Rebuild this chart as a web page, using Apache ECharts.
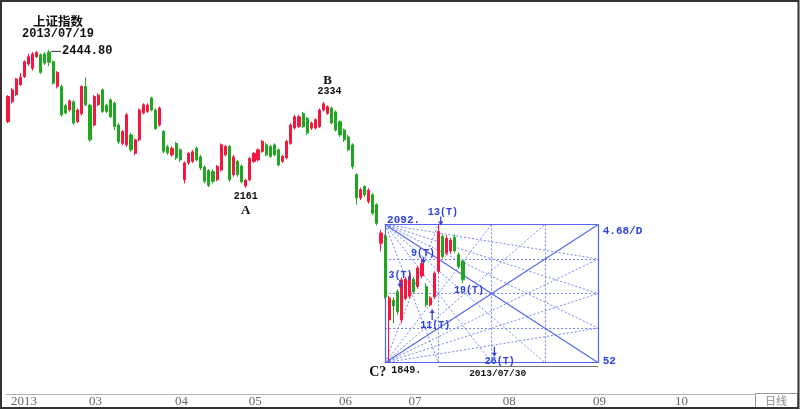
<!DOCTYPE html>
<html><head><meta charset="utf-8">
<script src="https://cdn.jsdelivr.net/npm/echarts/dist/echarts.min.js"></script>
<style>html,body{margin:0;padding:0;background:#fff}#c{width:800px;height:410px}</style>
</head><body><div id="c"></div>
<script>
// ---- data (trading-day index 0 = 2013-01-28) ----
const dayCount = 183;
const monthTickIdx = [0, 19, 40, 58, 80, 97, 120, 142, 162];
const monthTickLabels = ['2013', '03', '04', '05', '06', '07', '08', '09', '10'];
const weekTickIdx = [5, 10, 15, 25, 30, 35, 43, 48, 53, 60, 65, 70, 75, 85, 87, 92, 102, 107, 112, 117, 122, 127, 132, 137, 147, 152, 157, 167, 172, 177];

const opens = [2293,2334,2349,2370,2387,2414,2405,2430,2434,2436,2440,2419,2366,2366,2326,2317,2334,2293,2309,2366,
 2327,2286,2328,2359,2327,2338,2331,2286,2249,2246,2266,2229,2256,2311,2314,2342,2317,2286,2273,2242,
 2226,2249,2236,2177,2210,2213,2239,2222,2202,2195,2193,2177,2196,2226,2243,2187,2213,2204,2165,2177,
 2213,2216,2233,2246,2243,2246,2236,2213,2220,2249,2280,2283,2310,2300,2280,2280,2283,2317,2310,2321,
 2313,2293,2276,2262,2246,2187,2142,2164,2135,2148,2129,2057,2070,1921,1955,1970,1921,1958,1962,1992,
 1979,1998,1979,1947,1961,2006,2070,2039,2043,2068,2036,2024];
const closes = [2345,2359,2382,2386,2419,2430,2436,2439,2396,2416,2418,2373,2396,2307,2311,2336,2290,2317,2366,2328,
 2256,2345,2348,2314,2314,2303,2283,2252,2273,2307,2236,2256,2317,2328,2327,2317,2279,2321,2233,2230,
 2239,2220,2216,2210,2229,2232,2216,2200,2174,2166,2174,2203,2246,2243,2177,2222,2187,2173,2176,2219,
 2229,2236,2253,2226,2223,2226,2206,2223,2253,2286,2303,2303,2283,2270,2290,2297,2317,2330,2324,2290,
 2276,2266,2256,2236,2203,2142,2158,2148,2157,2113,2094,2076,1961,1959,1945,1935,1991,1992,1997,1970,
 2012,2020,1947,1959,2003,2079,2033,2066,2063,2043,2015,1991];
const lows = [2290,2331,2346,2367,2384,2410,2400,2427,2393,2412,2410,2370,2362,2303,2308,2314,2287,2290,2306,2325,
 2252,2283,2325,2311,2311,2300,2276,2248,2245,2242,2232,2225,2253,2308,2311,2314,2276,2283,2229,2226,
 2222,2216,2212,2170,2206,2210,2213,2196,2170,2163,2170,2174,2193,2223,2173,2183,2183,2170,2161,2174,
 2210,2213,2230,2223,2220,2223,2203,2210,2217,2246,2277,2280,2280,2266,2276,2277,2280,2314,2307,2287,
 2273,2262,2252,2233,2198,2129,2138,2144,2131,2110,2090,2042,1958,1849.65,1915,1930,1915,1955,1958,1966,
 1975,1994,1943,1944,1957,2002,2029,2035,2038,2040,2011,1985];
const highs = [2348,2363,2384,2395,2422,2436,2440,2442,2437,2440,2444.8,2422,2399,2370,2330,2339,2337,2320,2369,2385,
 2330,2348,2352,2362,2330,2341,2335,2290,2276,2311,2270,2259,2320,2331,2331,2345,2320,2324,2276,2246,
 2243,2252,2239,2213,2232,2236,2243,2226,2205,2198,2197,2206,2249,2246,2246,2226,2216,2207,2179,2222,
 2232,2239,2256,2250,2246,2249,2239,2226,2256,2290,2307,2307,2313,2303,2293,2300,2320,2334,2327,2324,
 2316,2296,2279,2266,2249,2190,2162,2167,2161,2151,2132,2082,2073,1963,1960,1974,1995,1996,2005,1996,
 2016,2030,1985,1962,2006,2092,2074,2072,2067,2073,2040,2027];

// Gann box (start day, length in days, high, low) and the time line under it
const boxStartIdx = 92, boxDays = 52, boxHigh = 2092, boxLow = 1849;
const timeLineStart = 105, timeLinePrice = 1843.5;

// annotations: text, day index, price
const annText  = ['2444.80','2161','A','2334','B','2092.','1849.','C?','13(T)','9(T)','3(T)','11(T)','19(T)','26(T)','2013/07/30','4.68/D','52'];
const annDay   = [10, 58, 58, 77, 77, 92, 93, 93, 105, 101, 95, 103, 111, 118, 118, 144, 144];
const annPrice = [2444.8, 2161, 2161, 2334, 2334, 2092, 1849.65, 1849.65, 2092, 2030, 1970, 1944, 1985, 1849, 1849, 2092, 1849];

// ---- build chart ----
const cats = Array.from({length: dayCount}, (_, i) => String(i));
const candles = opens.map((o, i) => [o, closes[i], lows[i], highs[i]]);

const RED = '#f2183f', GREEN = '#1fa81f', BLUE = '#2f43d8', LBLUE = '#6878f0';
const mono = '"Liberation Mono", monospace';
const serif = '"Liberation Serif", serif';
const annStyle = [
  {dx: 13, dy: 1.5, align: 'left', font: 'bold 12px ' + mono, color: '#111', leader: true},
  {dx: 0, dy: 8.5, font: 'bold 10px ' + mono, color: '#111'},
  {dx: 0, dy: 23, font: 'bold 13px ' + serif, color: '#111'},
  {dx: 6, dy: -10, font: 'bold 10px ' + mono, color: '#111'},
  {dx: 4, dy: -21, font: 'bold 13px ' + serif, color: '#111'},
  {dx: 2, dy: -4, align: 'left', font: 'bold 11px ' + mono, color: BLUE},
  {dx: 2, dy: 8, align: 'left', font: 'bold 10px ' + mono, color: '#111'},
  {dx: -11.5, dy: 10.5, font: 'bold 14px ' + serif, color: '#111'},
  {dx: 4.5, dy: -12, font: 'bold 10px ' + mono, color: BLUE, arrow: [2.4, -8, 1]},
  {dx: 1, dy: -5, font: 'bold 10px ' + mono, color: BLUE, arrow: [1.5, -1, 6]},
  {dx: 3, dy: -16, font: 'bold 10px ' + mono, color: BLUE, arrow: [2.5, -12, -4]},
  {dx: 5, dy: 18.5, font: 'bold 10px ' + mono, color: BLUE, arrow: [2, 13.5, 2.5]},
  {dx: 6, dy: 7, font: 'bold 10px ' + mono, color: BLUE},
  {dx: 8, dy: -1, font: 'bold 10px ' + mono, color: BLUE, arrow: [2.7, -16, -6]},
  {dx: 6, dy: 10.5, font: 'bold 9.5px ' + mono, color: '#111'},
  {dx: 4.5, dy: 7.3, align: 'left', font: 'bold 11px ' + mono, color: BLUE},
  {dx: 4.5, dy: -1.5, align: 'left', font: 'bold 11px ' + mono, color: BLUE}
];

// Gann grid lines
const gL = boxStartIdx, gR = boxStartIdx + boxDays;
const lvl = f => boxHigh * Math.pow(boxLow / boxHigh, f);
const xAt = g => gL + boxDays * g;
const solidLines = [
  [[gL, boxHigh], [gR, boxHigh]], [[gR, boxHigh], [gR, boxLow]], [[gR, boxLow], [gL, boxLow]], [[gL, boxLow], [gL, boxHigh]],
  [[gL, boxHigh], [gR, boxLow]], [[gL, boxLow], [gR, boxHigh]]
];
const dottedLines = [];
[0.25, 0.5, 0.75].forEach(q => {
  dottedLines.push([[gL, lvl(q)], [gR, lvl(q)]]);
  dottedLines.push([[xAt(q), boxHigh], [xAt(q), boxLow]]);
  dottedLines.push([[gL, boxHigh], [gR, lvl(q)]]);
  dottedLines.push([[gL, boxLow], [gR, lvl(q)]]);
  dottedLines.push([[gL, boxHigh], [xAt(q), boxLow]]);
  dottedLines.push([[gL, boxLow], [xAt(q), boxHigh]]);
});

const chart = echarts.init(document.getElementById('c'), null, {renderer: 'canvas'});
chart.setOption({
  animation: false,
  backgroundColor: '#fff',
  grid: {left: 6, right: 44, top: 4, bottom: 16},
  xAxis: [
    {type: 'category', data: cats, boundaryGap: true,
     axisLine: {lineStyle: {color: '#b4b4b4'}},
     axisTick: {alignWithLabel: true, length: 10, interval: i => monthTickIdx.includes(i), lineStyle: {color: '#999'}},
     axisLabel: {interval: i => monthTickIdx.includes(i), formatter: (v, i) => monthTickLabels[monthTickIdx.indexOf(Number(v))] || '',
       align: 'left', padding: [0, 0, 0, 3], margin: 1, color: '#666', fontFamily: 'Liberation Serif', fontSize: 13},
     splitLine: {show: false}},
    {type: 'category', data: cats, boundaryGap: true, position: 'bottom',
     axisLine: {show: false}, axisLabel: {show: false}, splitLine: {show: false},
     axisTick: {alignWithLabel: true, length: 3, interval: i => weekTickIdx.includes(i), lineStyle: {color: '#999'}}},
    {type: 'value', min: -0.5, max: dayCount - 0.5, show: false}
  ],
  yAxis: [{type: 'log', min: 1798, max: 2547, show: false}],
  series: [
    {type: 'lines', coordinateSystem: 'cartesian2d', xAxisIndex: 2, yAxisIndex: 0, z: 1,
     data: dottedLines.map(c => ({coords: c})), lineStyle: {color: LBLUE, width: 1, type: [2, 2], opacity: 0.9}},
    {type: 'lines', coordinateSystem: 'cartesian2d', xAxisIndex: 2, yAxisIndex: 0, z: 1,
     data: solidLines.map(c => ({coords: c})), lineStyle: {color: '#5567ee', width: 1.2, opacity: 1}},
    {type: 'lines', coordinateSystem: 'cartesian2d', xAxisIndex: 2, yAxisIndex: 0, z: 1,
     data: [{coords: [[timeLineStart, timeLinePrice], [gR, timeLinePrice]]}], lineStyle: {color: '#777', width: 1, opacity: 1}},
    {type: 'candlestick', xAxisIndex: 0, yAxisIndex: 0, z: 2, data: candles, barWidth: 2.6,
     itemStyle: {color: RED, color0: GREEN, borderColor: RED, borderColor0: GREEN, borderWidth: 1}},
    {type: 'custom', xAxisIndex: 2, yAxisIndex: 0, z: 5, clip: false,
     data: annDay.map((d, i) => [d, annPrice[i]]),
     renderItem: (params, api) => {
       const i = params.dataIndex;
       const p = api.coord([api.value(0), api.value(1)]);
       const s = annStyle[i];
       const ch = [{type: 'text', x: p[0] + s.dx, y: p[1] + s.dy,
         style: {text: annText[i], fill: s.color, font: s.font, align: s.align || 'center', verticalAlign: 'middle'}}];
       if (s.leader) ch.push({type: 'line', shape: {x1: p[0] + 2, y1: p[1] + 1.5, x2: p[0] + 12, y2: p[1] + 1.5}, style: {stroke: '#333', lineWidth: 1}});
       if (s.arrow) {
         const ax = p[0] + s.arrow[0], y1 = p[1] + s.arrow[1], y2 = p[1] + s.arrow[2];
         const dir = Math.sign(y2 - y1);
         ch.push({type: 'line', shape: {x1: ax, y1: y1, x2: ax, y2: y2 - dir * 2}, style: {stroke: s.color, lineWidth: 1.3}});
         ch.push({type: 'polygon', shape: {points: [[ax, y2], [ax - 2.5, y2 - dir * 4], [ax + 2.5, y2 - dir * 4]]}, style: {fill: s.color}});
       }
       return {type: 'group', children: ch};
     }}
  ],
  graphic: [
    {type: 'rect', shape: {x: 1, y: 1, width: 797.5, height: 407}, style: {fill: 'none', stroke: '#333', lineWidth: 2}, z: 100},
    {type: 'text', left: 33, top: 15, style: {text: '上证指数', font: 'bold 12.5px "Noto Sans CJK SC"', fill: '#111'}},
    {type: 'text', left: 22, top: 28, style: {text: '2013/07/19', font: 'bold 12px ' + mono, fill: '#111'}},
    {type: 'rect', shape: {x: 755.5, y: 393.5, width: 42, height: 14}, style: {fill: '#fff', stroke: '#999', lineWidth: 1}, z: 50},
    {type: 'text', x: 776, y: 401, style: {text: '日线', font: '11px "Noto Sans CJK SC"', fill: '#888', align: 'center', verticalAlign: 'middle'}, z: 51}
  ]
});
</script></body></html>
